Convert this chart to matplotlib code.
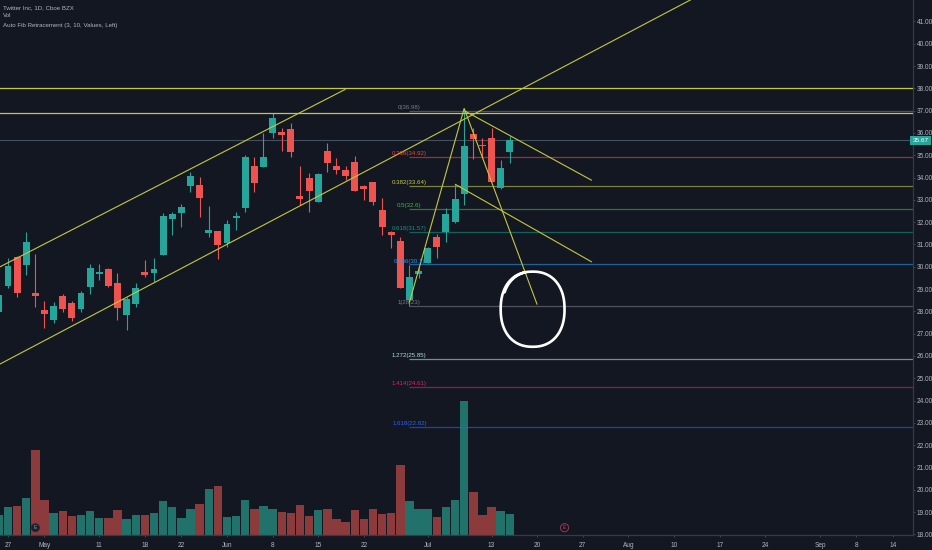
import matplotlib
matplotlib.use("Agg")
import matplotlib.pyplot as plt
import matplotlib.transforms as mtransforms
import numpy as np
import pandas as pd

# ---- Twitter Inc, daily candles (Cboe BZX) ----
holidays = ["2020-05-25", "2020-07-03", "2020-09-07"]
sessions = pd.bdate_range("2020-04-24", "2020-09-18").difference(pd.to_datetime(holidays))

opens = [27.98, 29.15, 30.45, 30.08, 28.83, 28.04, 27.61, 28.69, 28.39, 28.09,
         29.10, 29.66, 29.90, 29.29, 27.83, 28.31, 29.75, 29.70, 30.51, 32.13,
         32.39, 33.62, 33.66, 31.52, 31.60, 31.05, 32.20, 32.62, 34.53, 34.48,
         35.98, 36.04, 36.16, 33.17, 33.99, 32.91, 35.19, 34.52, 34.34, 34.71,
         33.61, 33.78, 32.56, 31.57, 31.17, 28.51, 29.66, 30.18, 31.35, 31.57,
         31.99, 33.25, 35.94, 35.48, 35.76, 33.54, 35.16]
highs = [28.85, 30.38, 30.50, 31.54, 30.57, 28.48, 28.43, 28.76, 28.46, 28.92,
         30.12, 30.12, 29.93, 29.73, 28.65, 29.28, 30.30, 30.38, 32.39, 32.47,
         32.81, 34.26, 34.04, 32.72, 31.62, 32.09, 32.47, 35.01, 34.93, 35.98,
         36.88, 36.23, 36.46, 34.52, 34.21, 34.20, 35.53, 34.86, 34.52, 34.96,
         33.66, 33.82, 33.07, 31.60, 31.35, 30.08, 30.00, 30.90, 31.45, 32.62,
         33.69, 36.98, 36.21, 35.78, 36.23, 34.78, 35.87]
lows = [27.90, 29.04, 28.63, 29.63, 28.18, 27.24, 27.46, 27.98, 27.58, 27.98,
        28.76, 29.40, 29.10, 27.61, 27.16, 28.21, 29.55, 29.33, 30.51, 31.42,
        31.79, 33.36, 32.24, 31.35, 30.33, 30.90, 31.65, 32.47, 33.36, 34.45,
        35.76, 35.20, 34.93, 32.77, 32.47, 32.91, 34.26, 34.16, 33.89, 33.38,
        32.99, 32.77, 31.42, 30.85, 29.03, 28.23, 29.48, 30.15, 30.40, 31.12,
        31.95, 32.77, 34.83, 34.86, 33.80, 33.48, 34.64]
closes = [28.73, 30.03, 28.81, 31.11, 28.70, 27.87, 28.25, 28.09, 27.69, 28.81,
          29.96, 29.75, 29.15, 28.14, 28.57, 29.03, 29.64, 29.91, 32.27, 32.38,
          32.66, 34.07, 33.07, 31.65, 30.97, 31.91, 32.29, 34.91, 33.74, 34.91,
          36.68, 35.92, 35.16, 33.02, 33.41, 34.16, 34.64, 34.34, 34.07, 33.41,
          33.48, 32.91, 31.77, 31.42, 29.06, 29.52, 29.82, 30.83, 30.90, 32.36,
          33.03, 35.43, 35.73, 35.41, 33.81, 34.41, 35.67]
volumes_m = [9.9, 14.0, 14.5, 18.4, 42.4, 17.7, 11.2, 12.0, 9.7, 10.2,
             12.0, 8.5, 8.7, 12.4, 8.0, 9.9, 9.9, 11.0, 16.9, 14.2,
             8.5, 12.9, 15.4, 23.2, 24.4, 9.2, 9.7, 17.7, 12.9, 14.5,
             12.9, 11.4, 11.0, 14.9, 9.4, 12.4, 12.9, 7.9, 6.7, 12.4,
             8.2, 13.0, 10.7, 11.2, 35.0, 17.0, 13.2, 13.2, 9.2, 14.2,
             17.4, 67.0, 21.7, 9.9, 14.2, 12.0, 10.5]
last_price = 35.67

# ---- axis labels ----
price_ticks = list(range(18, 42))
tick_dates = ["2020-04-27", "2020-05-01", "2020-05-11", "2020-05-18", "2020-05-22",
              "2020-06-01", "2020-06-08", "2020-06-15", "2020-06-22", "2020-07-01",
              "2020-07-13", "2020-07-20", "2020-07-27", "2020-08-03", "2020-08-10",
              "2020-08-17", "2020-08-24", "2020-09-01", "2020-09-08", "2020-09-14"]
tick_labels = ["27", "May", "11", "18", "22", "Jun", "8", "15", "22", "Jul",
               "13", "20", "27", "Aug", "10", "17", "24", "Sep", "8", "14"]
earnings_dates = ["2020-04-30", "2020-07-23"]

# ---- Auto Fib Retracement (3, 10, Values, Left) ----
fib_start = "2020-06-29"
fib_ratios = [0, 0.236, 0.382, 0.5, 0.618, 0.786, 1, 1.272, 1.414, 1.618]
fib_prices = [36.98, 34.92, 33.64, 32.6, 31.57, 30.1, 28.23, 25.85, 24.61, 22.82]
fib_colors = ["#787b86", "#f44336", "#c5c943", "#4caf50", "#089981",
              "#2196f3", "#787b86", "#b2dfdb", "#e91e63", "#2962ff"]

# ---- hand-drawn trend lines: (date, price) anchor pairs ----
trend_lines = [
    (("2020-04-24", 29.97), ("2020-06-18", 37.96)),   # upper channel
    (("2020-04-24", 25.61), ("2020-08-18", 42.87)),   # lower channel (long)
    (("2020-06-29", 28.40), ("2020-07-08", 37.10)),   # rally leg
    (("2020-07-08", 37.10), ("2020-07-20", 28.30)),   # projected drop
    (("2020-07-08", 37.00), ("2020-07-28", 33.87)),   # falling wedge top
    (("2020-07-07", 33.70), ("2020-07-28", 30.21)),   # falling wedge bottom
]
horizontal_levels = [38.0, 36.9]
target_box = (("2020-07-14", "2020-07-23"), (26.41, 29.78))

# ---- styling ----
BG = "#131722"
UP, DOWN = "#26a69a", "#ef5350"
VOL_UP, VOL_DOWN = "#22726c", "#8c3b3d"
YELLOW = "#c4c83c"
TXT = "#b2b5be"
plt.rcParams["font.family"] = ["Liberation Sans Narrow", "Liberation Sans", "DejaVu Sans"]

W, H = 932, 550
fig = plt.figure(figsize=(W / 100, H / 100), dpi=100, facecolor=BG)
ax = fig.add_axes([0, 15 / H, 912.7 / W, 535 / H])
axv = ax.twinx()
ax.set_zorder(axv.get_zorder() + 1)
ax.patch.set_visible(False)
axv.patch.set_facecolor(BG)


def idx(d):
    return sessions.get_loc(pd.Timestamp(d))


x = np.arange(len(opens))
o, h, l, c = map(np.asarray, (opens, highs, lows, closes))
rising = c >= o

# volume pane
axv.bar(x, volumes_m, width=0.92, color=np.where(rising, VOL_UP, VOL_DOWN), linewidth=0)
axv.set_ylim(0, 267.5)
axv.set_yticks([])
for s in axv.spines.values():
    s.set_visible(False)

# last price line
ax.axhline(last_price, color="#41505c", lw=0.8, zorder=1)

# fib levels
x0 = idx(fib_start)
x_right = 100.16
for r, p, col in zip(fib_ratios, fib_prices, fib_colors):
    ax.hlines(p, x0, x_right, color=col, lw=0.9, alpha=0.6, zorder=2)
    ax.annotate(f"{r:g}({p:g})", (x0, p), xytext=(0, 0.6), textcoords="offset points",
                ha="center", va="bottom", fontsize=4.4, color=col, zorder=6)

# candles
cols = np.where(rising, UP, DOWN)
ax.vlines(x, l, h, colors=cols, lw=0.8, zorder=3)
body_lo = np.minimum(o, c)
body_h = np.maximum(np.abs(c - o), 0.05)
ax.bar(x, body_h, bottom=body_lo, width=0.76, color=cols, linewidth=0, zorder=4)

# drawings
for lev in horizontal_levels:
    ax.axhline(lev, color=YELLOW, lw=0.9, zorder=5)
for (d1, p1), (d2, p2) in trend_lines:
    ax.plot([idx(d1), idx(d2)], [p1, p2], color=YELLOW, lw=0.8, zorder=5,
            solid_capstyle="butt")

# target loop (freehand-style, closing with a small overlap)
(dl, dr), (pb, pt) = target_box
cx, cy = (idx(dl) + idx(dr)) / 2, (pb + pt) / 2
a, b = (idx(dr) - idx(dl)) / 2, (pt - pb) / 2
t0 = 1.75
t = np.linspace(t0, t0 + 2 * np.pi + 0.95, 400)
shrink = np.where(t > t0 + 2 * np.pi, 1 - 0.04 * (t - t0 - 2 * np.pi) / 0.95, 1.0)
n = 2.25
ex = cx + a * shrink * np.sign(np.cos(t)) * np.abs(np.cos(t)) ** (2 / n)
ey = cy + b * shrink * np.sign(np.sin(t)) * np.abs(np.sin(t)) ** (2 / n)
ax.plot(ex, ey, color="white", lw=1.9, zorder=7, solid_capstyle="round")

# axes
ax.set_xlim(0.123, x_right)
ax.set_ylim(17.97, 41.96)
axv.set_xlim(0.123, x_right)
for side in ("top", "left"):
    ax.spines[side].set_visible(False)
for side in ("right", "bottom"):
    ax.spines[side].set_color("#363a45")
    ax.spines[side].set_linewidth(0.9)
ax.yaxis.tick_right()
ax.set_yticks(price_ticks)
ax.set_yticklabels([f"{v:.2f}" for v in price_ticks])
ax.tick_params(axis="y", colors="#4a4e59", labelcolor=TXT, labelsize=4.7, length=1.6,
               width=0.6, pad=1.2)
ax.set_xticks([idx(d) for d in tick_dates])
ax.set_xticklabels(tick_labels)
ax.tick_params(axis="x", colors="#4a4e59", labelcolor=TXT, labelsize=4.7, length=1.6,
               width=0.6, pad=3.2)

# last price badge
blend = mtransforms.blended_transform_factory(ax.transAxes, ax.transData)
ax.text(1.0, last_price, f"{last_price:.2f}", transform=blend, ha="left", va="center",
        fontsize=4.6, color="white", zorder=10, clip_on=False,
        bbox=dict(boxstyle="square,pad=0.35", fc=UP, ec="none"))

# earnings markers
mark = mtransforms.blended_transform_factory(ax.transData, ax.transAxes)
ax.text(idx(earnings_dates[0]), 0.0136, "E", transform=mark, ha="center", va="center",
        fontsize=3.8, color="#9598a1", zorder=10,
        bbox=dict(boxstyle="circle,pad=0.3", fc="#1b1f2b", ec="#2a2e39", lw=0.6))
ax.text(idx(earnings_dates[1]), 0.0136, "E", transform=mark, ha="center", va="center",
        fontsize=3.8, color="#c2405e", zorder=10,
        bbox=dict(boxstyle="circle,pad=0.3", fc=BG, ec="#a3324f", lw=0.7))

# legend header
fig.text(3 / W, 1 - 7.5 / H, "Twitter Inc, 1D, Cboe BZX", fontsize=4.4, color=TXT, va="center")
fig.text(3 / W, 1 - 15.7 / H, "Vol", fontsize=4.4, color=TXT, va="center")
fig.text(3 / W, 1 - 25.5 / H, "Auto Fib Retracement (3, 10, Values, Left)", fontsize=4.4,
         color=TXT, va="center")

fig.savefig("out.png", dpi=100, facecolor=BG)
